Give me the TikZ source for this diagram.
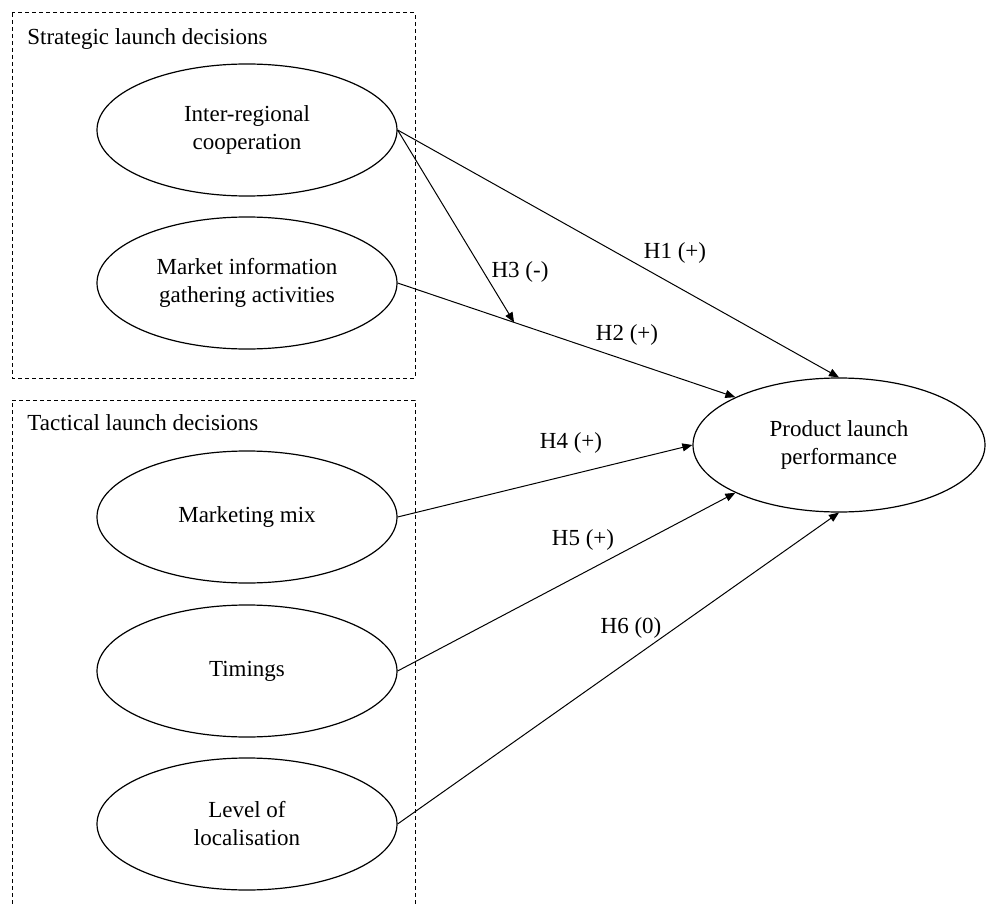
\documentclass[tikz,border=0pt]{standalone}
\usepackage{fontspec}
\setmainfont{Liberation Serif}
\usepackage{tikz}
\usetikzlibrary{arrows.meta}
\usetikzlibrary{shapes}

\begin{document}
\begin{tikzpicture}[
            x=0.5pt, y=-0.5pt,
            every node/.style={font=\fontsize{11.5pt}{14pt}\selectfont},
        construct/.style={ellipse,draw,line width=0.6pt,minimum width=150pt,minimum height=66pt,inner sep=0pt,align=center},
        groupbox/.style={draw,line width=0.5pt,dash pattern=on 2pt off 1.5pt},
        hyp/.style={line width=0.5pt,-{Triangle[length=5pt,width=4pt]}},
        ]
        \useasboundingbox (0,0) rectangle (986,904);

        % decision groups
        \draw[groupbox] (12,13) rectangle (415,378);
        \draw[groupbox] (12,904) -- (12,400) -- (415,400) -- (415,904);
        \node[anchor=base west,inner sep=0pt](strat_title) at (27,45){Strategic launch decisions};
        \node[anchor=base west,inner sep=0pt](tact_title) at (27,430){Tactical launch decisions};

        \node[construct](inter_reg) at (247,130){Inter-regional\\cooperation};
        \node[construct](mkt_info) at (247,283){Market information\\gathering activities};
        \node[construct](mkt_mix) at (247,517){Marketing mix};
        \node[construct](timings) at (247,671){Timings};
        \node[construct](local) at (247,824){Level of\\localisation};
        \node[construct, minimum width=146pt, minimum height=67pt](perf) at (839,445){Product launch\\performance};

        \draw[hyp] (inter_reg.east) -- (perf.north);
        \draw[hyp] (mkt_info.east) -- coordinate[pos=0.345](h3_end) (perf.north west);
        \draw[hyp] (inter_reg.east) -- (h3_end);
        \draw[hyp] (mkt_mix.east) -- (perf.west);
        \draw[hyp] (timings.east) -- (perf.south west);
        \draw[hyp] (local.east) -- (perf.south);

        \node(h1_label) at (675,253){H1 (+)};
        \node(h2_label) at (627,335){H2 (+)};
        \node(h3_label) at (520,272){H3 (-)};
        \node(h4_label) at (571,443){H4 (+)};
        \node(h5_label) at (583,540){H5 (+)};
        \node(h6_label) at (631,628){H6 (0)};

        \end{tikzpicture}
\end{document}
